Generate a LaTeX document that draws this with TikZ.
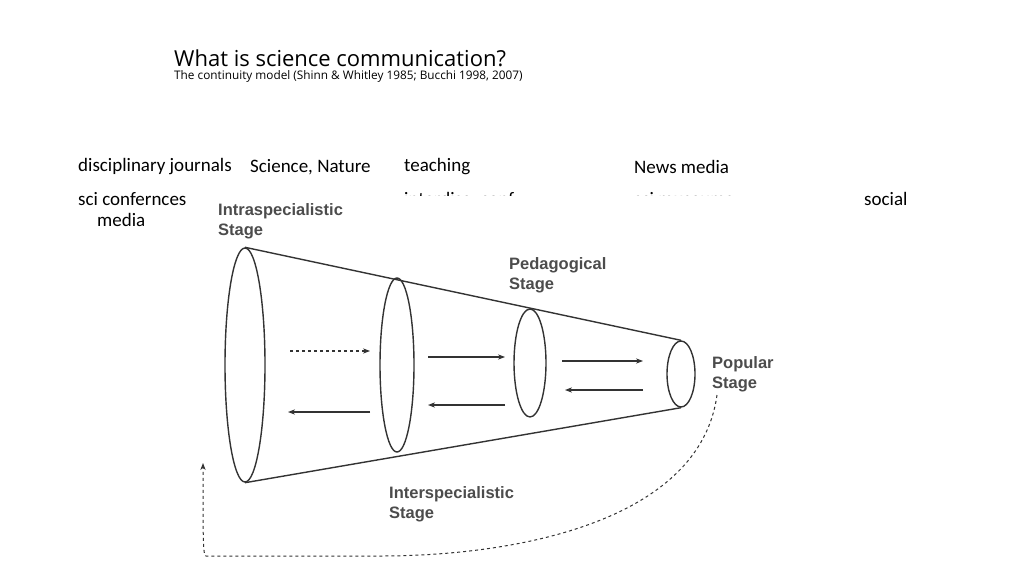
\documentclass[tikz,border=0pt]{standalone}
\usepackage{fontspec}
\setmainfont{Carlito}
\newfontfamily\titlefont{Open Sans}
\newfontfamily\figfont{Liberation Sans}
\usetikzlibrary{arrows.meta, shapes.geometric}
\begin{document}
\begin{tikzpicture}[x=1pt, y=-1pt,
    slideText/.style={anchor=west, inner sep=0pt, font=\fontsize{19}{22}\selectfont},
    stageText/.style={anchor=north west, inner sep=0pt, align=left, text=black!70, font=\figfont\bfseries\fontsize{16.5}{20}\selectfont},
    disc/.style={draw=black!80, line width=1.4pt},
    flow/.style={draw=black!80, line width=1.1pt, -{Stealth[length=7pt]}}]
  \useasboundingbox (0,0) rectangle (1024,575);
  % title
  \node[anchor=base west, inner sep=0pt, font=\titlefont\fontsize{22}{26}\selectfont] (title) at (174,67) {What is science communication?};
  \node[anchor=base west, inner sep=0pt, font=\titlefont\fontsize{11.8}{14}\selectfont] (sub) at (174,80) {The continuity model (Shinn \& Whitley 1985; Bucchi 1998, 2007)};
  % slide labels
  \node[slideText] (journals) at (78,167) {disciplinary journals};
  \node[slideText] (scinat)   at (250,167) {Science, Nature};
  \node[slideText] (teach)    at (404,167) {teaching};
  \node[slideText] (news)     at (634,167) {News media};
  \node[slideText] (conf)     at (78,199) {sci confernces};
  \node[slideText] (interd)   at (404,199) {interdisc. conf};
  \node[slideText] (museum)   at (634,199) {sci museums};
  \node[slideText] (social)   at (864,199) {social};
  \node[slideText] (media)    at (97,220) {media};
  % scanned figure background
  \fill[white] (190,196) rectangle (790,575);
  % cone
  \node[disc, ellipse, minimum width=40pt, minimum height=234pt, inner sep=0pt] (e1) at (245,365) {};
  \node[disc, ellipse, minimum width=34pt, minimum height=174pt, inner sep=0pt] (e2) at (397,365) {};
  \node[disc, ellipse, minimum width=32pt, minimum height=108pt, inner sep=0pt] (e3) at (530,363) {};
  \node[disc, ellipse, minimum width=28pt, minimum height=66pt, inner sep=0pt] (e4) at (681,374) {};
  \draw[disc] (e1.north) -- (e4.north);
  \draw[disc] (e1.south) -- (e4.south);
  % arrows between stages
  \coordinate (a1) at (290,351); \coordinate (b1) at (370,351);
  \coordinate (a2) at (370,412); \coordinate (b2) at (288,412);
  \coordinate (a3) at (428,357); \coordinate (b3) at (505,357);
  \coordinate (a4) at (505,405); \coordinate (b4) at (428,405);
  \coordinate (a5) at (562,361); \coordinate (b5) at (643,361);
  \coordinate (a6) at (643,390); \coordinate (b6) at (565,390);
  \draw[flow, dashed] (a1) -- (b1);
  \draw[flow] (a2) -- (b2);
  \draw[flow] (a3) -- (b3);
  \draw[flow] (a4) -- (b4);
  \draw[flow] (a5) -- (b5);
  \draw[flow] (a6) -- (b6);
  % return path
  \coordinate (r0) at (717,395); \coordinate (r1) at (203,463);
  \draw[flow, dashed, line width=1pt] (r0) .. controls (700,520) and (520,556) .. (380,556)
     -- (206,556) .. controls (203,556) and (203,540) .. (r1);
  % stage labels
  \node[stageText] (intra) at (218,203) {Intraspecialistic\\Stage};
  \node[stageText] (peda)  at (509,257) {Pedagogical\\Stage};
  \node[stageText] (popu)  at (712,356) {Popular\\Stage};
  \node[stageText] (inter) at (389,486) {Interspecialistic\\Stage};
\end{tikzpicture}
\end{document}
